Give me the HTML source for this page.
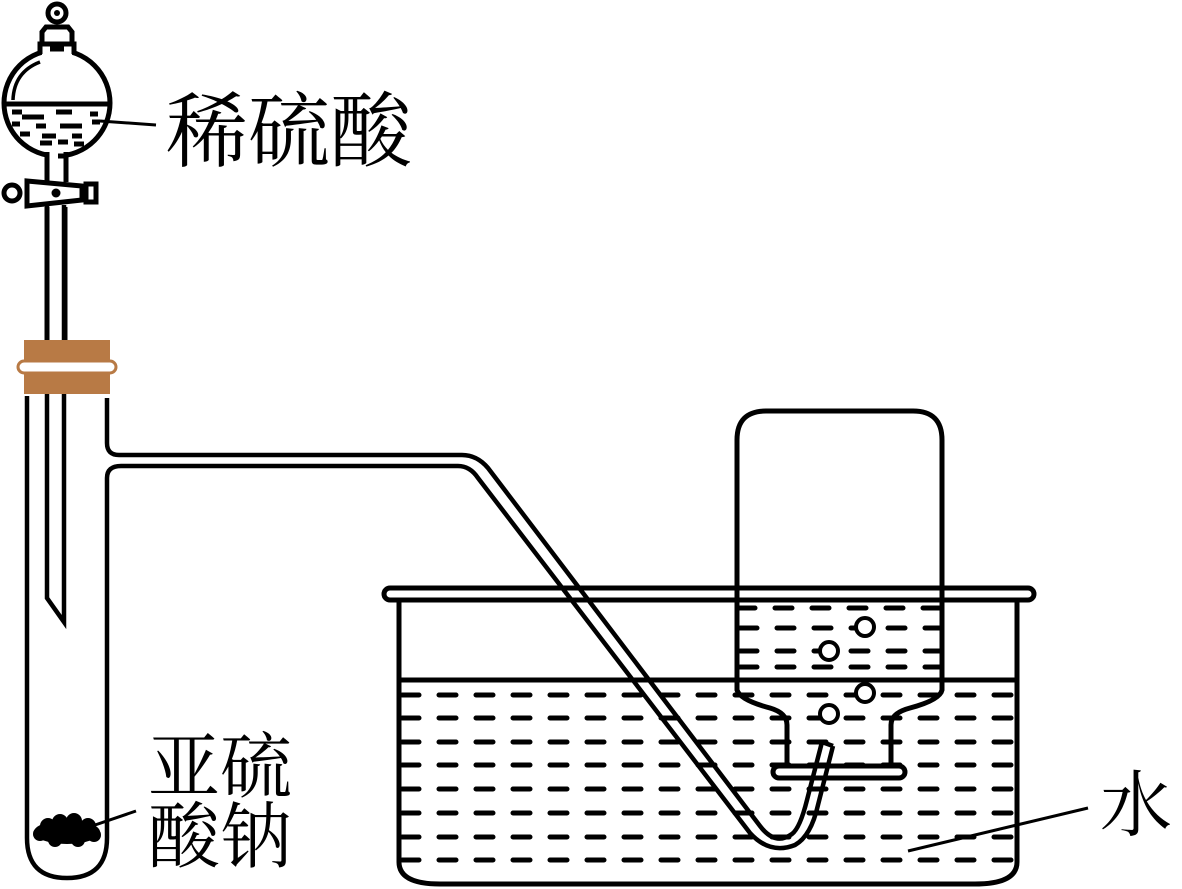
<!DOCTYPE html>
<html><head><meta charset="utf-8"><style>
html,body{margin:0;padding:0;background:#fff;width:1182px;height:889px;overflow:hidden}
svg{display:block}
text{font-family:"Liberation Serif","Noto Serif CJK SC",serif;fill:#000}
</style></head><body>
<svg width="1182" height="889" viewBox="0 0 1182 889" xmlns="http://www.w3.org/2000/svg">
<defs>
<clipPath id="trough"><rect x="401" y="683" width="614" height="198"/></clipPath>
<clipPath id="bottle"><rect x="739" y="602" width="201" height="76"/></clipPath>
</defs>
<g clip-path="url(#trough)" stroke="#000" stroke-width="5" stroke-linecap="round" stroke-dasharray="17 20">
<line x1="402" y1="695" x2="1020" y2="695"/>
<line x1="402" y1="718" x2="1020" y2="718"/>
<line x1="402" y1="742" x2="1020" y2="742"/>
<line x1="402" y1="765" x2="1020" y2="765"/>
<line x1="402" y1="789" x2="1020" y2="789"/>
<line x1="402" y1="813" x2="1020" y2="813"/>
<line x1="402" y1="837" x2="1020" y2="837"/>
<line x1="402" y1="860" x2="1020" y2="860"/>
</g>
<g clip-path="url(#bottle)" stroke="#000" stroke-width="5" stroke-linecap="round" stroke-dasharray="17 20">
<line x1="738" y1="608" x2="940" y2="608"/>
<line x1="740" y1="628" x2="940" y2="628"/>
<line x1="740" y1="651" x2="940" y2="651"/>
<line x1="740" y1="667" x2="940" y2="667"/>
</g>
<g fill="none" stroke="#000" stroke-width="5">
<rect x="384" y="588" width="650" height="12" rx="6" fill="#fff"/>
<path d="M399,600 L399,862 Q399,884 440,884 L975,884 Q1017,884 1017,862 L1017,600"/>
<line x1="399" y1="680" x2="1017" y2="680"/>
<path d="M737,440 Q737,411 766,411 L913,411 Q942,411 942,440 L942,690 Q940,700 910,708 Q891,713 891,725 L891,768"/>
<path d="M737,440 L737,690 Q740,700 770,708 Q787,713 787,725 L787,768"/>
<rect x="773" y="766" width="132" height="12" rx="6" fill="#fff"/>
</g>
<g fill="#fff" stroke="#000" stroke-width="4">
<circle cx="865" cy="627" r="9"/><circle cx="829" cy="651" r="9"/>
<circle cx="865" cy="693" r="9"/><circle cx="829" cy="714" r="9"/>
</g>
<g fill="none" stroke="#000" stroke-width="4.5" stroke-linejoin="round">
<path d="M107,398 L107,443 Q107,455 119,455 L462,455 Q477,455 488,468 L760,826 Q775,846 792,834 Q800,828 807,800 L822,742"/>
<path d="M107,478 Q107,466 121,466 L458,466 Q470,466 478,478 L750,833 Q770,855 795,845 Q811,836 818,805 L833,746"/>
<line x1="822" y1="742" x2="833" y2="746"/>
</g>
<g fill="none" stroke="#000" stroke-width="4.5">
<path d="M27,396 L27,838 Q27,878 67,878 Q107,878 107,838 L107,478"/>
<path d="M47,205 L47,598 L64,622 L64,205"/>
</g>
<g fill="#000">
<ellipse cx="67" cy="832" rx="33" ry="12"/>
<circle cx="48" cy="826" r="8"/><circle cx="60" cy="822" r="8"/><circle cx="74" cy="821" r="8"/><circle cx="88" cy="826" r="8"/>
<circle cx="40" cy="834" r="7"/><circle cx="94" cy="835" r="7"/><circle cx="55" cy="840" r="7"/><circle cx="78" cy="840" r="7"/>
</g>
<rect x="24" y="340" width="86" height="54" fill="#b87a45"/>
<rect x="18" y="361" width="98" height="12" rx="6" fill="#fff" stroke="#b87a45" stroke-width="3"/>
<!-- funnel -->
<g fill="none" stroke="#000" stroke-width="5">
<circle cx="57" cy="103" r="53"/>
</g>
<rect x="42" y="40" width="30" height="16" fill="#fff"/>
<rect x="49" y="148" width="16" height="14" fill="#fff"/>
<g fill="none" stroke="#000" stroke-width="5">
<path d="M40,54 L40,44 L74,44 L74,54"/>
<path d="M42,42 L42,32 L46,27 L68,27 L72,32 L72,42"/>
<circle cx="57" cy="13" r="9"/>
<path d="M47,152 L47,182 M66,152 L66,182"/>
<line x1="5" y1="104" x2="109" y2="104"/>
<path d="M13,100 Q14,72 40,62" stroke-width="3.5"/>
</g>
<circle cx="57" cy="13" r="3" fill="#000"/>
<g stroke="#000" stroke-width="5">
<line x1="12" y1="112" x2="22" y2="112"/><line x1="22" y1="117" x2="44" y2="117"/><line x1="56" y1="112" x2="72" y2="112"/><line x1="90" y1="114" x2="98" y2="114"/>
<line x1="12" y1="124" x2="20" y2="124"/><line x1="36" y1="126" x2="46" y2="126"/><line x1="60" y1="126" x2="82" y2="126"/><line x1="92" y1="122" x2="100" y2="122"/>
<line x1="20" y1="134" x2="30" y2="134"/><line x1="42" y1="136" x2="56" y2="136"/><line x1="72" y1="136" x2="82" y2="136"/>
<line x1="40" y1="143" x2="52" y2="143"/><line x1="58" y1="142" x2="68" y2="142"/><line x1="74" y1="144" x2="84" y2="144"/><line x1="58" y1="156" x2="66" y2="156"/>
<line x1="50" y1="49" x2="64" y2="49"/>
</g>
<g fill="#fff" stroke="#000" stroke-width="5">
<circle cx="12" cy="193" r="8"/>
<path d="M27,181 L82,186 L82,200 L27,206 Z"/>
<rect x="86" y="184" width="10" height="18"/>
</g>
<circle cx="56" cy="193" r="4.5" fill="#000"/>
<line x1="47" y1="207" x2="47" y2="340" stroke="#000" stroke-width="5"/>
<line x1="65" y1="207" x2="65" y2="340" stroke="#000" stroke-width="5"/>
<g stroke="#000" stroke-width="3">
<line x1="100" y1="121" x2="156" y2="125"/>
<line x1="95" y1="825" x2="136" y2="811"/>
<line x1="908" y1="851" x2="1088" y2="808"/>
</g>
<text x="166" y="160" font-size="82">稀硫酸</text>
<text x="148" y="792" font-size="72">亚硫</text>
<text x="148" y="862" font-size="72">酸钠</text>
<text x="1100" y="830" font-size="72">水</text>
</svg>
</body></html>
